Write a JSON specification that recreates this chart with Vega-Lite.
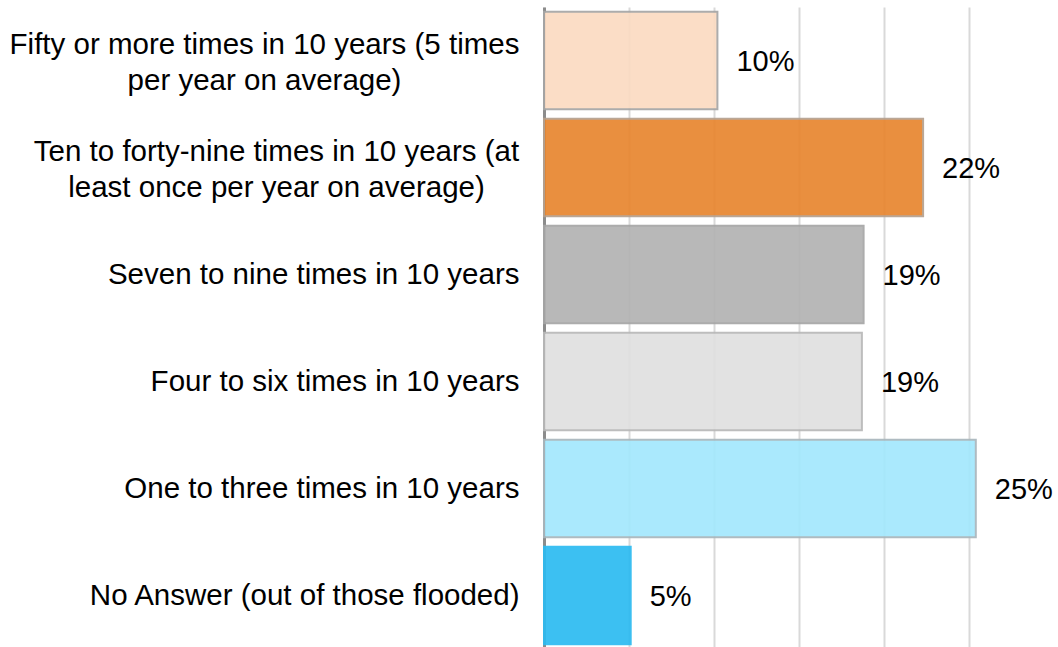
{
  "$schema": "https://vega.github.io/schema/vega-lite/v6.json",
  "autosize": "none",
  "width": 510,
  "height": 642,
  "padding": {"left": 544, "top": 7, "right": 4, "bottom": 0},
  "background": "white",
  "config": {"view": {"stroke": null}, "font": "Liberation Sans"},
  "data": {
    "values": [
      {"category": "Fifty or more times in 10 years (5 times per year on average)", "value": 10.2, "label": "10%"},
      {"category": "Ten to forty-nine times in 10 years (at least once per year on average)", "value": 22.3, "label": "22%"},
      {"category": "Seven to nine times in 10 years", "value": 18.8, "label": "19%"},
      {"category": "Four to six times in 10 years", "value": 18.7, "label": "19%"},
      {"category": "One to three times in 10 years", "value": 25.4, "label": "25%"},
      {"category": "No Answer (out of those flooded)", "value": 5.1, "label": "5%"}
    ]
  },
  "encoding": {
    "y": {
      "field": "category",
      "type": "nominal",
      "sort": null,
      "scale": {"paddingInner": 0.09, "paddingOuter": 0.045},
      "axis": {
        "title": null,
        "ticks": false,
        "domainColor": "#8C8C8C",
        "domainWidth": 3,
        "labelFont": "Liberation Sans",
        "labelFontSize": 29.5,
        "labelColor": "#000000",
        "labelLimit": 600,
        "labelLineHeight": 36,
        "labelBaseline": "middle",
        "labelAlign": {"condition": {"test": "indexof(datum.value, 'average') >= 0", "value": "center"}, "value": "right"},
        "labelOffset": {"condition": {"test": "indexof(datum.value, 'average') >= 0", "value": -16}, "value": 0},
        "labelPadding": {"condition": [
          {"test": "indexof(datum.value, 'Fifty') == 0", "value": 280},
          {"test": "indexof(datum.value, 'Ten to') == 0", "value": 268}
        ], "value": 25},
        "labelExpr": "indexof(datum.value, 'Fifty') == 0 ? ['Fifty or more times in 10 years (5 times', 'per year on average)'] : indexof(datum.value, 'Ten to') == 0 ? ['Ten to forty-nine times in 10 years (at', 'least once per year on average)'] : datum.value"
      }
    }
  },
  "layer": [
    {
      "mark": {"type": "bar", "strokeWidth": 2, "opacity": 0.92},
      "encoding": {
        "x": {
          "field": "value",
          "type": "quantitative",
          "scale": {"domain": [0, 30], "nice": false},
          "axis": {
            "title": null,
            "labels": false,
            "ticks": false,
            "domain": false,
            "grid": true,
            "gridColor": "#D9D9D9",
            "gridWidth": 2,
            "values": [0, 5, 10, 15, 20, 25]
          }
        },
        "fill": {
          "field": "category",
          "type": "nominal",
          "legend": null,
          "scale": {
            "domain": [
              "Fifty or more times in 10 years (5 times per year on average)",
              "Ten to forty-nine times in 10 years (at least once per year on average)",
              "Seven to nine times in 10 years",
              "Four to six times in 10 years",
              "One to three times in 10 years",
              "No Answer (out of those flooded)"
            ],
            "range": ["#FBDBC2", "#E8862F", "#B3B3B3", "#E0E0E0", "#A3E8FD", "#2CBBF1"]
          }
        },
        "stroke": {
          "field": "category",
          "type": "nominal",
          "legend": null,
          "scale": {
            "domain": [
              "Fifty or more times in 10 years (5 times per year on average)",
              "Ten to forty-nine times in 10 years (at least once per year on average)",
              "Seven to nine times in 10 years",
              "Four to six times in 10 years",
              "One to three times in 10 years",
              "No Answer (out of those flooded)"
            ],
            "range": ["#A5A5A5", "#B5A08E", "#A5A5A5", "#B8B8B8", "#A9B6BC", "#2CBBF1"]
          }
        }
      }
    },
    {
      "mark": {"type": "text", "align": "left", "baseline": "middle", "dx": 19, "dy": 1, "fontSize": 29, "font": "Liberation Sans", "color": "#000000"},
      "encoding": {
        "x": {"field": "value", "type": "quantitative"},
        "text": {"field": "label", "type": "nominal"}
      }
    }
  ]
}
